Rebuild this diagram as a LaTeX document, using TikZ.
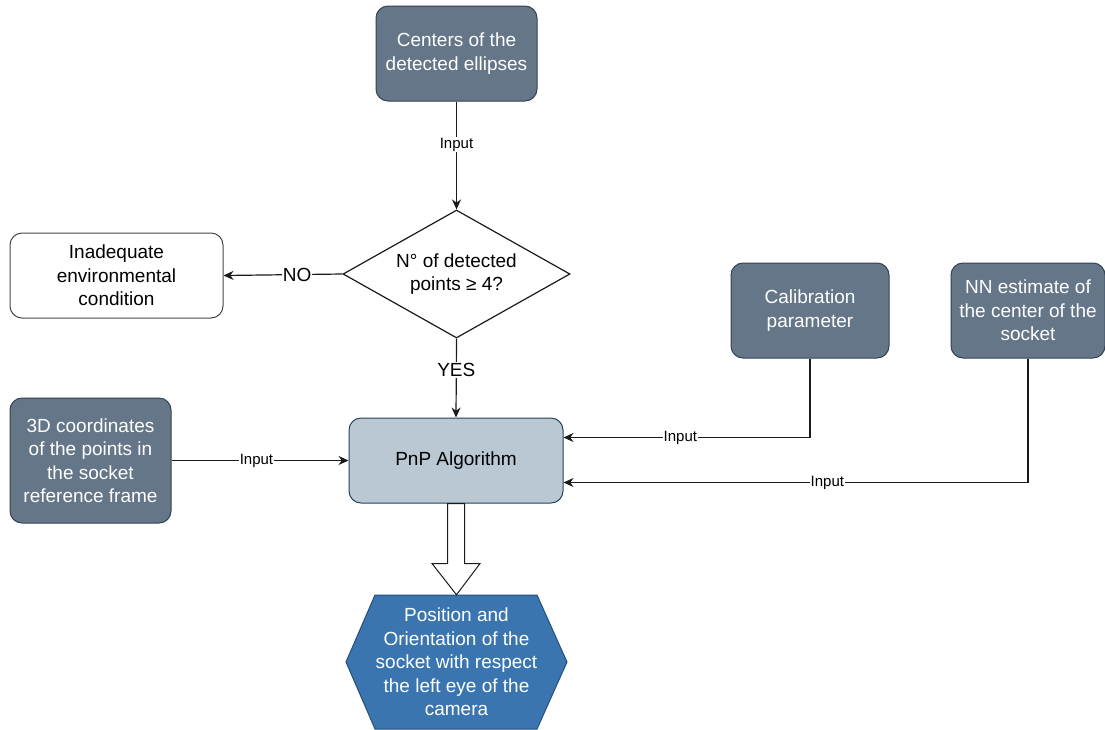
\documentclass[tikz,border=0pt]{standalone}
\usepackage{fontspec}
\setmainfont{Liberation Sans}
\usetikzlibrary{shapes.geometric,arrows.meta,calc}
\definecolor{slate}{HTML}{647687}
\definecolor{slateline}{HTML}{314354}
\definecolor{pnpfill}{HTML}{BAC8D3}
\definecolor{pnpline}{HTML}{23445D}
\definecolor{posefill}{HTML}{3A75AF}
\definecolor{poseline}{HTML}{22507D}
\definecolor{edgecol}{HTML}{1A1A1A}
\tikzset{
  boxtext/.style={font=\fontsize{19}{23.5}\selectfont, align=center, inner sep=0pt},
  darkbox/.style={boxtext, rectangle, rounded corners=12pt, draw=slateline, fill=slate, text=white, line width=1pt},
  whitebox/.style={boxtext, rectangle, rounded corners=12pt, draw=edgecol!80, fill=white, text=black, line width=1pt},
  pnpbox/.style={boxtext, rectangle, rounded corners=12pt, draw=pnpline, fill=pnpfill, text=black, line width=1pt},
  decision/.style={boxtext, diamond, aspect=1.77, draw=edgecol, fill=white, line width=1.2pt},
  arr/.style={draw=edgecol, line width=1.2pt, -{Stealth[length=10pt,width=9pt]}},
  inlabel/.style={font=\fontsize{15}{18}\selectfont, fill=white, inner sep=1pt, text=black},
  biglabel/.style={font=\fontsize{19}{22}\selectfont, fill=white, inner sep=1pt, text=black},
}
\begin{document}
\begin{tikzpicture}[x=1pt,y=-1pt]
\path[use as bounding box, fill=white] (0,0) rectangle (1105,729);

\node[darkbox, minimum width=161pt, minimum height=95pt] (centers) at (456.5,53.5) {Centers of the\\detected ellipses};
\node[decision, minimum width=227pt, minimum height=128pt] (dec) at (456.5,274) {N° of detected\\points ≥ 4?};
\node[whitebox, minimum width=213pt, minimum height=85pt] (inad) at (116.5,275.5) {Inadequate\\environmental\\condition};
\node[pnpbox, minimum width=214pt, minimum height=85pt] (pnp) at (456,460.5) {PnP Algorithm};
\node[darkbox, minimum width=161pt, minimum height=125pt] (coords) at (90.5,460.5) {3D coordinates\\of the points in\\the socket\\reference frame};
\node[darkbox, minimum width=158pt, minimum height=95pt] (calib) at (810,310.5) {Calibration\\parameter};
\node[darkbox, minimum width=154pt, minimum height=95pt] (nn) at (1028,310.5) {NN estimate of\\the center of the\\socket};

% hexagon output
\draw[fill=posefill, draw=poseline, line width=1pt]
  (375,595) -- (537,595) -- (567,662) -- (537,729) -- (375,729) -- (346,662) -- cycle;
\node[boxtext, text=white, minimum width=221pt, minimum height=134pt] (pose) at (456.5,662)
  {Position and\\Orientation of the\\socket with respect\\the left eye of the\\camera};

% connectors
\draw[arr] (centers.south) -- node[inlabel, pos=0.40] {Input} (dec.north);
\draw[arr] (dec.west) -- node[biglabel, pos=0.38] {NO} (inad.east);
\draw[arr] (dec.south) -- node[biglabel, pos=0.40] {YES} (pnp.north);
\draw[arr] (coords.east) -- node[inlabel, pos=0.48] {Input} (pnp.west);

\coordinate (pin1) at ($(pnp.north east)+(0,20)$);
\coordinate (pin2) at ($(pnp.north east)+(0,65)$);
\draw[arr] (calib.south) |- node[inlabel, pos=0.763] {Input} (pin1);
\draw[arr] (nn.south) |- node[inlabel, pos=0.716] {Input} (pin2);

% block arrow
\draw[fill=white, draw=edgecol, line width=1pt]
  ($(pnp.south)+(-8.5,0)$) -- ($(pnp.south)+(8.5,0)$) -- ($(pnp.south)+(8.5,60)$)
  -- ($(pnp.south)+(24,60)$) -- (pose.north) -- ($(pnp.south)+(-24,60)$)
  -- ($(pnp.south)+(-8.5,60)$) -- cycle;
\end{tikzpicture}
\end{document}
